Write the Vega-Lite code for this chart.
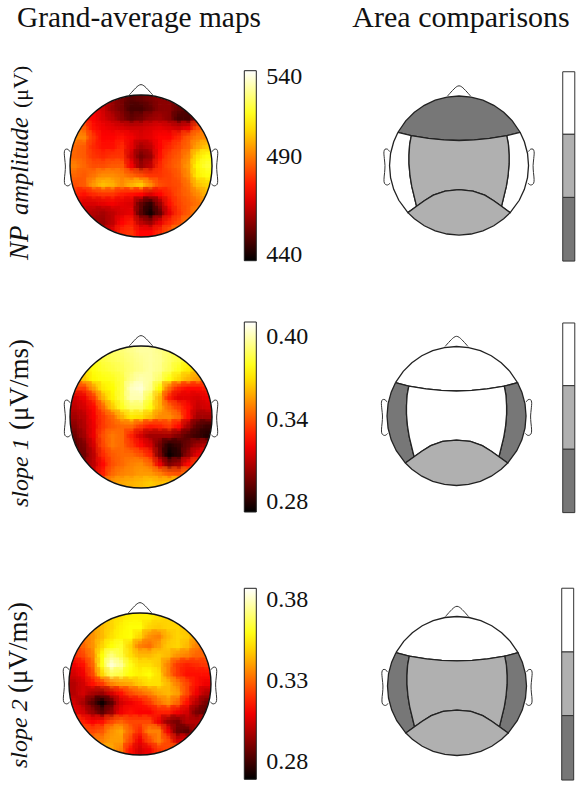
{"$schema":"https://vega.github.io/schema/vega-lite/v6.json","padding":0,"background":"white","config":{"view":{"stroke":null},"axis":{"disable":true},"text":{"font":"Liberation Serif","color":"#111"}},
"datasets":{
"outline":[{"part":"nose","i":0,"x":-1.24,"y":7.5},{"part":"nose","i":1,"x":-0.3,"y":8.48},{"part":"nose","i":2,"x":0,"y":8.6},{"part":"nose","i":3,"x":0.3,"y":8.48},{"part":"nose","i":4,"x":1.24,"y":7.5},
{"part":"earL","i":0,"x":-7.5,"y":1.5},{"part":"earL","i":1,"x":-7.72,"y":1.76},{"part":"earL","i":2,"x":-7.99,"y":1.76},{"part":"earL","i":3,"x":-8.1,"y":1.5},{"part":"earL","i":4,"x":-8.06,"y":0.75},{"part":"earL","i":5,"x":-7.99,"y":0},{"part":"earL","i":6,"x":-8.03,"y":-0.75},{"part":"earL","i":7,"x":-8.1,"y":-1.5},{"part":"earL","i":8,"x":-8.03,"y":-1.95},{"part":"earL","i":9,"x":-7.72,"y":-2.1},{"part":"earL","i":10,"x":-7.42,"y":-1.88},
{"part":"earR","i":0,"x":7.5,"y":1.5},{"part":"earR","i":1,"x":7.72,"y":1.76},{"part":"earR","i":2,"x":7.99,"y":1.76},{"part":"earR","i":3,"x":8.1,"y":1.5},{"part":"earR","i":4,"x":8.06,"y":0.75},{"part":"earR","i":5,"x":7.99,"y":0},{"part":"earR","i":6,"x":8.03,"y":-0.75},{"part":"earR","i":7,"x":8.1,"y":-1.5},{"part":"earR","i":8,"x":8.03,"y":-1.95},{"part":"earR","i":9,"x":7.72,"y":-2.1},{"part":"earR","i":10,"x":7.42,"y":-1.88}],
"levels":[{"region":"top","np":"low","s1":"high","s2":"high"},{"region":"left","np":"high","s1":"low","s2":"low"},{"region":"right","np":"high","s1":"low","s2":"low"},{"region":"center","np":"mid","s1":"high","s2":"mid"},{"region":"bottom","np":"mid","s1":"mid","s2":"mid"}],
"bars":[{"m":1,"level":"high","lo":3.37,"hi":10.12},{"m":1,"level":"mid","lo":-3.44,"hi":3.37},{"m":1,"level":"low","lo":-10.31,"hi":-3.44},{"m":2,"level":"high","lo":3.27,"hi":10.04},{"m":2,"level":"mid","lo":-3.59,"hi":3.27},{"m":2,"level":"low","lo":-10.43,"hi":-3.59},{"m":3,"level":"high","lo":3.67,"hi":10.55},{"m":3,"level":"mid","lo":-3.2,"hi":3.67},{"m":3,"level":"low","lo":-10.15,"hi":-3.2}],
"regions":[
{"region":"top","i":0,"x":-6.59,"y":3.59},{"region":"top","i":1,"x":-5.15,"y":3.22},{"region":"top","i":2,"x":-3.3,"y":2.92},{"region":"top","i":3,"x":-1.65,"y":2.76},{"region":"top","i":4,"x":0,"y":2.7},{"region":"top","i":5,"x":1.65,"y":2.76},{"region":"top","i":6,"x":3.3,"y":2.92},{"region":"top","i":7,"x":5.15,"y":3.22},{"region":"top","i":8,"x":6.59,"y":3.59},{"region":"top","i":9,"x":5.75,"y":4.82},{"region":"top","i":10,"x":4.82,"y":5.75},{"region":"top","i":11,"x":3.75,"y":6.5},{"region":"top","i":12,"x":2.57,"y":7.05},{"region":"top","i":13,"x":1.3,"y":7.39},{"region":"top","i":14,"x":0,"y":7.5},{"region":"top","i":15,"x":-1.3,"y":7.39},{"region":"top","i":16,"x":-2.57,"y":7.05},{"region":"top","i":17,"x":-3.75,"y":6.5},{"region":"top","i":18,"x":-4.82,"y":5.75},{"region":"top","i":19,"x":-5.75,"y":4.82},{"region":"top","i":20,"x":-6.59,"y":3.59},
{"region":"left","i":0,"x":-6.59,"y":3.59},{"region":"left","i":1,"x":-5.15,"y":3.22},{"region":"left","i":2,"x":-5.33,"y":2.25},{"region":"left","i":3,"x":-5.4,"y":1.1},{"region":"left","i":4,"x":-5.4,"y":0.2},{"region":"left","i":5,"x":-5.29,"y":-1.1},{"region":"left","i":6,"x":-5.1,"y":-2.25},{"region":"left","i":7,"x":-4.58,"y":-4.4},{"region":"left","i":8,"x":-5.52,"y":-5.08},{"region":"left","i":9,"x":-6.5,"y":-3.75},{"region":"left","i":10,"x":-7.05,"y":-2.57},{"region":"left","i":11,"x":-7.39,"y":-1.3},{"region":"left","i":12,"x":-7.5,"y":0},{"region":"left","i":13,"x":-7.39,"y":1.3},{"region":"left","i":14,"x":-7.05,"y":2.57},{"region":"left","i":15,"x":-6.59,"y":3.59},
{"region":"right","i":0,"x":6.59,"y":3.59},{"region":"right","i":1,"x":5.15,"y":3.22},{"region":"right","i":2,"x":5.33,"y":2.25},{"region":"right","i":3,"x":5.4,"y":1.1},{"region":"right","i":4,"x":5.4,"y":0.2},{"region":"right","i":5,"x":5.29,"y":-1.1},{"region":"right","i":6,"x":5.1,"y":-2.25},{"region":"right","i":7,"x":4.58,"y":-4.4},{"region":"right","i":8,"x":5.52,"y":-5.08},{"region":"right","i":9,"x":6.5,"y":-3.75},{"region":"right","i":10,"x":7.05,"y":-2.57},{"region":"right","i":11,"x":7.39,"y":-1.3},{"region":"right","i":12,"x":7.5,"y":0},{"region":"right","i":13,"x":7.39,"y":1.3},{"region":"right","i":14,"x":7.05,"y":2.57},{"region":"right","i":15,"x":6.59,"y":3.59},
{"region":"center","i":0,"x":-5.15,"y":3.22},{"region":"center","i":1,"x":-3.3,"y":2.92},{"region":"center","i":2,"x":-1.65,"y":2.76},{"region":"center","i":3,"x":0,"y":2.7},{"region":"center","i":4,"x":1.65,"y":2.76},{"region":"center","i":5,"x":3.3,"y":2.92},{"region":"center","i":6,"x":5.15,"y":3.22},{"region":"center","i":7,"x":5.33,"y":2.25},{"region":"center","i":8,"x":5.4,"y":1.1},{"region":"center","i":9,"x":5.4,"y":0.2},{"region":"center","i":10,"x":5.29,"y":-1.1},{"region":"center","i":11,"x":5.1,"y":-2.25},{"region":"center","i":12,"x":4.58,"y":-4.4},{"region":"center","i":13,"x":3.75,"y":-3.8},{"region":"center","i":14,"x":2.78,"y":-3.2},{"region":"center","i":15,"x":1.5,"y":-2.75},{"region":"center","i":16,"x":0,"y":-2.6},{"region":"center","i":17,"x":-1.5,"y":-2.75},{"region":"center","i":18,"x":-2.78,"y":-3.2},{"region":"center","i":19,"x":-3.75,"y":-3.8},{"region":"center","i":20,"x":-4.58,"y":-4.4},{"region":"center","i":21,"x":-5.1,"y":-2.25},{"region":"center","i":22,"x":-5.29,"y":-1.1},{"region":"center","i":23,"x":-5.4,"y":0.2},{"region":"center","i":24,"x":-5.4,"y":1.1},{"region":"center","i":25,"x":-5.33,"y":2.25},{"region":"center","i":26,"x":-5.15,"y":3.22},
{"region":"bottom","i":0,"x":-5.52,"y":-5.08},{"region":"bottom","i":1,"x":-4.58,"y":-4.4},{"region":"bottom","i":2,"x":-3.75,"y":-3.8},{"region":"bottom","i":3,"x":-2.78,"y":-3.2},{"region":"bottom","i":4,"x":-1.5,"y":-2.75},{"region":"bottom","i":5,"x":0,"y":-2.6},{"region":"bottom","i":6,"x":1.5,"y":-2.75},{"region":"bottom","i":7,"x":2.78,"y":-3.2},{"region":"bottom","i":8,"x":3.75,"y":-3.8},{"region":"bottom","i":9,"x":4.58,"y":-4.4},{"region":"bottom","i":10,"x":5.52,"y":-5.08},{"region":"bottom","i":11,"x":4.82,"y":-5.75},{"region":"bottom","i":12,"x":3.75,"y":-6.5},{"region":"bottom","i":13,"x":2.57,"y":-7.05},{"region":"bottom","i":14,"x":1.3,"y":-7.39},{"region":"bottom","i":15,"x":0,"y":-7.5},{"region":"bottom","i":16,"x":-1.3,"y":-7.39},{"region":"bottom","i":17,"x":-2.57,"y":-7.05},{"region":"bottom","i":18,"x":-3.75,"y":-6.5},{"region":"bottom","i":19,"x":-4.82,"y":-5.75},{"region":"bottom","i":20,"x":-5.52,"y":-5.08}],
"cells":[
{"m":1,"x":-4,"y":7,"v":465},{"m":1,"x":-3,"y":7,"v":460},{"m":1,"x":-2,"y":7,"v":455},{"m":1,"x":-1,"y":7,"v":450},{"m":1,"x":0,"y":7,"v":452},{"m":1,"x":1,"y":7,"v":455},{"m":1,"x":2,"y":7,"v":458},{"m":1,"x":3,"y":7,"v":458},{"m":1,"x":4,"y":7,"v":455},
{"m":1,"x":-5,"y":6,"v":475},{"m":1,"x":-4,"y":6,"v":468},{"m":1,"x":-3,"y":6,"v":460},{"m":1,"x":-2,"y":6,"v":455},{"m":1,"x":-1,"y":6,"v":448},{"m":1,"x":0,"y":6,"v":448},{"m":1,"x":1,"y":6,"v":452},{"m":1,"x":2,"y":6,"v":458},{"m":1,"x":3,"y":6,"v":458},{"m":1,"x":4,"y":6,"v":452},{"m":1,"x":5,"y":6,"v":450},
{"m":1,"x":-6,"y":5,"v":480},{"m":1,"x":-5,"y":5,"v":475},{"m":1,"x":-4,"y":5,"v":470},{"m":1,"x":-3,"y":5,"v":465},{"m":1,"x":-2,"y":5,"v":458},{"m":1,"x":-1,"y":5,"v":452},{"m":1,"x":0,"y":5,"v":455},{"m":1,"x":1,"y":5,"v":460},{"m":1,"x":2,"y":5,"v":462},{"m":1,"x":3,"y":5,"v":458},{"m":1,"x":4,"y":5,"v":448},{"m":1,"x":5,"y":5,"v":448},{"m":1,"x":6,"y":5,"v":462},
{"m":1,"x":-7,"y":4,"v":495},{"m":1,"x":-6,"y":4,"v":490},{"m":1,"x":-5,"y":4,"v":478},{"m":1,"x":-4,"y":4,"v":474},{"m":1,"x":-3,"y":4,"v":472},{"m":1,"x":-2,"y":4,"v":470},{"m":1,"x":-1,"y":4,"v":468},{"m":1,"x":0,"y":4,"v":468},{"m":1,"x":1,"y":4,"v":470},{"m":1,"x":2,"y":4,"v":472},{"m":1,"x":3,"y":4,"v":470},{"m":1,"x":4,"y":4,"v":468},{"m":1,"x":5,"y":4,"v":472},{"m":1,"x":6,"y":4,"v":488},{"m":1,"x":7,"y":4,"v":495},
{"m":1,"x":-7,"y":3,"v":498},{"m":1,"x":-6,"y":3,"v":497},{"m":1,"x":-5,"y":3,"v":484},{"m":1,"x":-4,"y":3,"v":476},{"m":1,"x":-3,"y":3,"v":476},{"m":1,"x":-2,"y":3,"v":478},{"m":1,"x":-1,"y":3,"v":474},{"m":1,"x":0,"y":3,"v":470},{"m":1,"x":1,"y":3,"v":472},{"m":1,"x":2,"y":3,"v":476},{"m":1,"x":3,"y":3,"v":476},{"m":1,"x":4,"y":3,"v":482},{"m":1,"x":5,"y":3,"v":490},{"m":1,"x":6,"y":3,"v":496},{"m":1,"x":7,"y":3,"v":498},
{"m":1,"x":-7,"y":2,"v":492},{"m":1,"x":-6,"y":2,"v":490},{"m":1,"x":-5,"y":2,"v":482},{"m":1,"x":-4,"y":2,"v":478},{"m":1,"x":-3,"y":2,"v":478},{"m":1,"x":-2,"y":2,"v":482},{"m":1,"x":-1,"y":2,"v":472},{"m":1,"x":0,"y":2,"v":462},{"m":1,"x":1,"y":2,"v":466},{"m":1,"x":2,"y":2,"v":476},{"m":1,"x":3,"y":2,"v":482},{"m":1,"x":4,"y":2,"v":487},{"m":1,"x":5,"y":2,"v":492},{"m":1,"x":6,"y":2,"v":502},{"m":1,"x":7,"y":2,"v":508},
{"m":1,"x":-7,"y":1,"v":492},{"m":1,"x":-6,"y":1,"v":490},{"m":1,"x":-5,"y":1,"v":484},{"m":1,"x":-4,"y":1,"v":482},{"m":1,"x":-3,"y":1,"v":484},{"m":1,"x":-2,"y":1,"v":484},{"m":1,"x":-1,"y":1,"v":468},{"m":1,"x":0,"y":1,"v":455},{"m":1,"x":1,"y":1,"v":460},{"m":1,"x":2,"y":1,"v":478},{"m":1,"x":3,"y":1,"v":486},{"m":1,"x":4,"y":1,"v":490},{"m":1,"x":5,"y":1,"v":497},{"m":1,"x":6,"y":1,"v":512},{"m":1,"x":7,"y":1,"v":518},
{"m":1,"x":-7,"y":0,"v":496},{"m":1,"x":-6,"y":0,"v":492},{"m":1,"x":-5,"y":0,"v":488},{"m":1,"x":-4,"y":0,"v":488},{"m":1,"x":-3,"y":0,"v":490},{"m":1,"x":-2,"y":0,"v":490},{"m":1,"x":-1,"y":0,"v":474},{"m":1,"x":0,"y":0,"v":460},{"m":1,"x":1,"y":0,"v":466},{"m":1,"x":2,"y":0,"v":482},{"m":1,"x":3,"y":0,"v":488},{"m":1,"x":4,"y":0,"v":492},{"m":1,"x":5,"y":0,"v":500},{"m":1,"x":6,"y":0,"v":516},{"m":1,"x":7,"y":0,"v":522},
{"m":1,"x":-7,"y":-1,"v":492},{"m":1,"x":-6,"y":-1,"v":490},{"m":1,"x":-5,"y":-1,"v":494},{"m":1,"x":-4,"y":-1,"v":498},{"m":1,"x":-3,"y":-1,"v":498},{"m":1,"x":-2,"y":-1,"v":496},{"m":1,"x":-1,"y":-1,"v":492},{"m":1,"x":0,"y":-1,"v":488},{"m":1,"x":1,"y":-1,"v":484},{"m":1,"x":2,"y":-1,"v":484},{"m":1,"x":3,"y":-1,"v":486},{"m":1,"x":4,"y":-1,"v":490},{"m":1,"x":5,"y":-1,"v":498},{"m":1,"x":6,"y":-1,"v":514},{"m":1,"x":7,"y":-1,"v":518},
{"m":1,"x":-7,"y":-2,"v":488},{"m":1,"x":-6,"y":-2,"v":490},{"m":1,"x":-5,"y":-2,"v":500},{"m":1,"x":-4,"y":-2,"v":506},{"m":1,"x":-3,"y":-2,"v":504},{"m":1,"x":-2,"y":-2,"v":498},{"m":1,"x":-1,"y":-2,"v":504},{"m":1,"x":0,"y":-2,"v":508},{"m":1,"x":1,"y":-2,"v":498},{"m":1,"x":2,"y":-2,"v":488},{"m":1,"x":3,"y":-2,"v":486},{"m":1,"x":4,"y":-2,"v":488},{"m":1,"x":5,"y":-2,"v":494},{"m":1,"x":6,"y":-2,"v":506},{"m":1,"x":7,"y":-2,"v":510},
{"m":1,"x":-7,"y":-3,"v":482},{"m":1,"x":-6,"y":-3,"v":478},{"m":1,"x":-5,"y":-3,"v":482},{"m":1,"x":-4,"y":-3,"v":484},{"m":1,"x":-3,"y":-3,"v":484},{"m":1,"x":-2,"y":-3,"v":480},{"m":1,"x":-1,"y":-3,"v":478},{"m":1,"x":0,"y":-3,"v":476},{"m":1,"x":1,"y":-3,"v":470},{"m":1,"x":2,"y":-3,"v":476},{"m":1,"x":3,"y":-3,"v":482},{"m":1,"x":4,"y":-3,"v":488},{"m":1,"x":5,"y":-3,"v":492},{"m":1,"x":6,"y":-3,"v":498},{"m":1,"x":7,"y":-3,"v":505},
{"m":1,"x":-7,"y":-4,"v":478},{"m":1,"x":-6,"y":-4,"v":470},{"m":1,"x":-5,"y":-4,"v":470},{"m":1,"x":-4,"y":-4,"v":472},{"m":1,"x":-3,"y":-4,"v":474},{"m":1,"x":-2,"y":-4,"v":472},{"m":1,"x":-1,"y":-4,"v":470},{"m":1,"x":0,"y":-4,"v":452},{"m":1,"x":1,"y":-4,"v":444},{"m":1,"x":2,"y":-4,"v":460},{"m":1,"x":3,"y":-4,"v":478},{"m":1,"x":4,"y":-4,"v":486},{"m":1,"x":5,"y":-4,"v":490},{"m":1,"x":6,"y":-4,"v":494},{"m":1,"x":7,"y":-4,"v":500},
{"m":1,"x":-6,"y":-5,"v":468},{"m":1,"x":-5,"y":-5,"v":464},{"m":1,"x":-4,"y":-5,"v":462},{"m":1,"x":-3,"y":-5,"v":466},{"m":1,"x":-2,"y":-5,"v":470},{"m":1,"x":-1,"y":-5,"v":472},{"m":1,"x":0,"y":-5,"v":450},{"m":1,"x":1,"y":-5,"v":440},{"m":1,"x":2,"y":-5,"v":452},{"m":1,"x":3,"y":-5,"v":472},{"m":1,"x":4,"y":-5,"v":484},{"m":1,"x":5,"y":-5,"v":490},{"m":1,"x":6,"y":-5,"v":498},
{"m":1,"x":-5,"y":-6,"v":462},{"m":1,"x":-4,"y":-6,"v":460},{"m":1,"x":-3,"y":-6,"v":466},{"m":1,"x":-2,"y":-6,"v":476},{"m":1,"x":-1,"y":-6,"v":480},{"m":1,"x":0,"y":-6,"v":466},{"m":1,"x":1,"y":-6,"v":460},{"m":1,"x":2,"y":-6,"v":472},{"m":1,"x":3,"y":-6,"v":482},{"m":1,"x":4,"y":-6,"v":488},{"m":1,"x":5,"y":-6,"v":496},
{"m":1,"x":-4,"y":-7,"v":464},{"m":1,"x":-3,"y":-7,"v":472},{"m":1,"x":-2,"y":-7,"v":482},{"m":1,"x":-1,"y":-7,"v":484},{"m":1,"x":0,"y":-7,"v":476},{"m":1,"x":1,"y":-7,"v":476},{"m":1,"x":2,"y":-7,"v":482},{"m":1,"x":3,"y":-7,"v":490},{"m":1,"x":4,"y":-7,"v":498},
{"m":2,"x":-4,"y":7,"v":0.385},{"m":2,"x":-3,"y":7,"v":0.39},{"m":2,"x":-2,"y":7,"v":0.392},{"m":2,"x":-1,"y":7,"v":0.395},{"m":2,"x":0,"y":7,"v":0.398},{"m":2,"x":1,"y":7,"v":0.398},{"m":2,"x":2,"y":7,"v":0.395},{"m":2,"x":3,"y":7,"v":0.39},{"m":2,"x":4,"y":7,"v":0.385},
{"m":2,"x":-5,"y":6,"v":0.38},{"m":2,"x":-4,"y":6,"v":0.385},{"m":2,"x":-3,"y":6,"v":0.388},{"m":2,"x":-2,"y":6,"v":0.39},{"m":2,"x":-1,"y":6,"v":0.393},{"m":2,"x":0,"y":6,"v":0.396},{"m":2,"x":1,"y":6,"v":0.398},{"m":2,"x":2,"y":6,"v":0.396},{"m":2,"x":3,"y":6,"v":0.39},{"m":2,"x":4,"y":6,"v":0.385},{"m":2,"x":5,"y":6,"v":0.38},
{"m":2,"x":-6,"y":5,"v":0.37},{"m":2,"x":-5,"y":5,"v":0.378},{"m":2,"x":-4,"y":5,"v":0.382},{"m":2,"x":-3,"y":5,"v":0.385},{"m":2,"x":-2,"y":5,"v":0.388},{"m":2,"x":-1,"y":5,"v":0.392},{"m":2,"x":0,"y":5,"v":0.395},{"m":2,"x":1,"y":5,"v":0.398},{"m":2,"x":2,"y":5,"v":0.395},{"m":2,"x":3,"y":5,"v":0.388},{"m":2,"x":4,"y":5,"v":0.38},{"m":2,"x":5,"y":5,"v":0.372},{"m":2,"x":6,"y":5,"v":0.365},
{"m":2,"x":-7,"y":4,"v":0.36},{"m":2,"x":-6,"y":4,"v":0.365},{"m":2,"x":-5,"y":4,"v":0.375},{"m":2,"x":-4,"y":4,"v":0.378},{"m":2,"x":-3,"y":4,"v":0.38},{"m":2,"x":-2,"y":4,"v":0.385},{"m":2,"x":-1,"y":4,"v":0.395},{"m":2,"x":0,"y":4,"v":0.4},{"m":2,"x":1,"y":4,"v":0.398},{"m":2,"x":2,"y":4,"v":0.39},{"m":2,"x":3,"y":4,"v":0.378},{"m":2,"x":4,"y":4,"v":0.368},{"m":2,"x":5,"y":4,"v":0.36},{"m":2,"x":6,"y":4,"v":0.355},{"m":2,"x":7,"y":4,"v":0.35},
{"m":2,"x":-7,"y":3,"v":0.335},{"m":2,"x":-6,"y":3,"v":0.335},{"m":2,"x":-5,"y":3,"v":0.355},{"m":2,"x":-4,"y":3,"v":0.372},{"m":2,"x":-3,"y":3,"v":0.376},{"m":2,"x":-2,"y":3,"v":0.385},{"m":2,"x":-1,"y":3,"v":0.402},{"m":2,"x":0,"y":3,"v":0.405},{"m":2,"x":1,"y":3,"v":0.395},{"m":2,"x":2,"y":3,"v":0.375},{"m":2,"x":3,"y":3,"v":0.345},{"m":2,"x":4,"y":3,"v":0.33},{"m":2,"x":5,"y":3,"v":0.325},{"m":2,"x":6,"y":3,"v":0.325},{"m":2,"x":7,"y":3,"v":0.33},
{"m":2,"x":-7,"y":2,"v":0.315},{"m":2,"x":-6,"y":2,"v":0.32},{"m":2,"x":-5,"y":2,"v":0.335},{"m":2,"x":-4,"y":2,"v":0.36},{"m":2,"x":-3,"y":2,"v":0.374},{"m":2,"x":-2,"y":2,"v":0.385},{"m":2,"x":-1,"y":2,"v":0.4},{"m":2,"x":0,"y":2,"v":0.4},{"m":2,"x":1,"y":2,"v":0.385},{"m":2,"x":2,"y":2,"v":0.36},{"m":2,"x":3,"y":2,"v":0.33},{"m":2,"x":4,"y":2,"v":0.318},{"m":2,"x":5,"y":2,"v":0.318},{"m":2,"x":6,"y":2,"v":0.315},{"m":2,"x":7,"y":2,"v":0.32},
{"m":2,"x":-7,"y":1,"v":0.31},{"m":2,"x":-6,"y":1,"v":0.315},{"m":2,"x":-5,"y":1,"v":0.325},{"m":2,"x":-4,"y":1,"v":0.345},{"m":2,"x":-3,"y":1,"v":0.365},{"m":2,"x":-2,"y":1,"v":0.38},{"m":2,"x":-1,"y":1,"v":0.39},{"m":2,"x":0,"y":1,"v":0.39},{"m":2,"x":1,"y":1,"v":0.378},{"m":2,"x":2,"y":1,"v":0.36},{"m":2,"x":3,"y":1,"v":0.345},{"m":2,"x":4,"y":1,"v":0.335},{"m":2,"x":5,"y":1,"v":0.325},{"m":2,"x":6,"y":1,"v":0.312},{"m":2,"x":7,"y":1,"v":0.315},
{"m":2,"x":-7,"y":0,"v":0.305},{"m":2,"x":-6,"y":0,"v":0.31},{"m":2,"x":-5,"y":0,"v":0.322},{"m":2,"x":-4,"y":0,"v":0.335},{"m":2,"x":-3,"y":0,"v":0.345},{"m":2,"x":-2,"y":0,"v":0.36},{"m":2,"x":-1,"y":0,"v":0.372},{"m":2,"x":0,"y":0,"v":0.37},{"m":2,"x":1,"y":0,"v":0.362},{"m":2,"x":2,"y":0,"v":0.352},{"m":2,"x":3,"y":0,"v":0.352},{"m":2,"x":4,"y":0,"v":0.345},{"m":2,"x":5,"y":0,"v":0.325},{"m":2,"x":6,"y":0,"v":0.305},{"m":2,"x":7,"y":0,"v":0.305},
{"m":2,"x":-7,"y":-1,"v":0.3},{"m":2,"x":-6,"y":-1,"v":0.308},{"m":2,"x":-5,"y":-1,"v":0.32},{"m":2,"x":-4,"y":-1,"v":0.335},{"m":2,"x":-3,"y":-1,"v":0.342},{"m":2,"x":-2,"y":-1,"v":0.345},{"m":2,"x":-1,"y":-1,"v":0.345},{"m":2,"x":0,"y":-1,"v":0.335},{"m":2,"x":1,"y":-1,"v":0.328},{"m":2,"x":2,"y":-1,"v":0.33},{"m":2,"x":3,"y":-1,"v":0.335},{"m":2,"x":4,"y":-1,"v":0.325},{"m":2,"x":5,"y":-1,"v":0.305},{"m":2,"x":6,"y":-1,"v":0.29},{"m":2,"x":7,"y":-1,"v":0.285},
{"m":2,"x":-7,"y":-2,"v":0.295},{"m":2,"x":-6,"y":-2,"v":0.305},{"m":2,"x":-5,"y":-2,"v":0.32},{"m":2,"x":-4,"y":-2,"v":0.34},{"m":2,"x":-3,"y":-2,"v":0.348},{"m":2,"x":-2,"y":-2,"v":0.345},{"m":2,"x":-1,"y":-2,"v":0.33},{"m":2,"x":0,"y":-2,"v":0.315},{"m":2,"x":1,"y":-2,"v":0.305},{"m":2,"x":2,"y":-2,"v":0.305},{"m":2,"x":3,"y":-2,"v":0.305},{"m":2,"x":4,"y":-2,"v":0.298},{"m":2,"x":5,"y":-2,"v":0.29},{"m":2,"x":6,"y":-2,"v":0.285},{"m":2,"x":7,"y":-2,"v":0.28},
{"m":2,"x":-7,"y":-3,"v":0.29},{"m":2,"x":-6,"y":-3,"v":0.298},{"m":2,"x":-5,"y":-3,"v":0.315},{"m":2,"x":-4,"y":-3,"v":0.338},{"m":2,"x":-3,"y":-3,"v":0.348},{"m":2,"x":-2,"y":-3,"v":0.345},{"m":2,"x":-1,"y":-3,"v":0.335},{"m":2,"x":0,"y":-3,"v":0.325},{"m":2,"x":1,"y":-3,"v":0.315},{"m":2,"x":2,"y":-3,"v":0.295},{"m":2,"x":3,"y":-3,"v":0.28},{"m":2,"x":4,"y":-3,"v":0.285},{"m":2,"x":5,"y":-3,"v":0.295},{"m":2,"x":6,"y":-3,"v":0.305},{"m":2,"x":7,"y":-3,"v":0.31},
{"m":2,"x":-7,"y":-4,"v":0.295},{"m":2,"x":-6,"y":-4,"v":0.295},{"m":2,"x":-5,"y":-4,"v":0.31},{"m":2,"x":-4,"y":-4,"v":0.332},{"m":2,"x":-3,"y":-4,"v":0.342},{"m":2,"x":-2,"y":-4,"v":0.345},{"m":2,"x":-1,"y":-4,"v":0.345},{"m":2,"x":0,"y":-4,"v":0.34},{"m":2,"x":1,"y":-4,"v":0.33},{"m":2,"x":2,"y":-4,"v":0.298},{"m":2,"x":3,"y":-4,"v":0.275},{"m":2,"x":4,"y":-4,"v":0.282},{"m":2,"x":5,"y":-4,"v":0.302},{"m":2,"x":6,"y":-4,"v":0.318},{"m":2,"x":7,"y":-4,"v":0.325},
{"m":2,"x":-6,"y":-5,"v":0.3},{"m":2,"x":-5,"y":-5,"v":0.31},{"m":2,"x":-4,"y":-5,"v":0.325},{"m":2,"x":-3,"y":-5,"v":0.34},{"m":2,"x":-2,"y":-5,"v":0.345},{"m":2,"x":-1,"y":-5,"v":0.35},{"m":2,"x":0,"y":-5,"v":0.352},{"m":2,"x":1,"y":-5,"v":0.345},{"m":2,"x":2,"y":-5,"v":0.32},{"m":2,"x":3,"y":-5,"v":0.298},{"m":2,"x":4,"y":-5,"v":0.305},{"m":2,"x":5,"y":-5,"v":0.325},{"m":2,"x":6,"y":-5,"v":0.34},
{"m":2,"x":-5,"y":-6,"v":0.315},{"m":2,"x":-4,"y":-6,"v":0.33},{"m":2,"x":-3,"y":-6,"v":0.345},{"m":2,"x":-2,"y":-6,"v":0.35},{"m":2,"x":-1,"y":-6,"v":0.352},{"m":2,"x":0,"y":-6,"v":0.355},{"m":2,"x":1,"y":-6,"v":0.355},{"m":2,"x":2,"y":-6,"v":0.35},{"m":2,"x":3,"y":-6,"v":0.342},{"m":2,"x":4,"y":-6,"v":0.34},{"m":2,"x":5,"y":-6,"v":0.35},
{"m":2,"x":-4,"y":-7,"v":0.345},{"m":2,"x":-3,"y":-7,"v":0.355},{"m":2,"x":-2,"y":-7,"v":0.358},{"m":2,"x":-1,"y":-7,"v":0.36},{"m":2,"x":0,"y":-7,"v":0.362},{"m":2,"x":1,"y":-7,"v":0.365},{"m":2,"x":2,"y":-7,"v":0.362},{"m":2,"x":3,"y":-7,"v":0.365},{"m":2,"x":4,"y":-7,"v":0.37},
{"m":3,"x":-4,"y":7,"v":0.345},{"m":3,"x":-3,"y":7,"v":0.35},{"m":3,"x":-2,"y":7,"v":0.352},{"m":3,"x":-1,"y":7,"v":0.355},{"m":3,"x":0,"y":7,"v":0.355},{"m":3,"x":1,"y":7,"v":0.355},{"m":3,"x":2,"y":7,"v":0.352},{"m":3,"x":3,"y":7,"v":0.35},{"m":3,"x":4,"y":7,"v":0.348},
{"m":3,"x":-5,"y":6,"v":0.338},{"m":3,"x":-4,"y":6,"v":0.345},{"m":3,"x":-3,"y":6,"v":0.35},{"m":3,"x":-2,"y":6,"v":0.355},{"m":3,"x":-1,"y":6,"v":0.358},{"m":3,"x":0,"y":6,"v":0.358},{"m":3,"x":1,"y":6,"v":0.35},{"m":3,"x":2,"y":6,"v":0.348},{"m":3,"x":3,"y":6,"v":0.35},{"m":3,"x":4,"y":6,"v":0.35},{"m":3,"x":5,"y":6,"v":0.345},
{"m":3,"x":-6,"y":5,"v":0.332},{"m":3,"x":-5,"y":5,"v":0.338},{"m":3,"x":-4,"y":5,"v":0.345},{"m":3,"x":-3,"y":5,"v":0.352},{"m":3,"x":-2,"y":5,"v":0.356},{"m":3,"x":-1,"y":5,"v":0.358},{"m":3,"x":0,"y":5,"v":0.35},{"m":3,"x":1,"y":5,"v":0.338},{"m":3,"x":2,"y":5,"v":0.335},{"m":3,"x":3,"y":5,"v":0.345},{"m":3,"x":4,"y":5,"v":0.35},{"m":3,"x":5,"y":5,"v":0.348},{"m":3,"x":6,"y":5,"v":0.34},
{"m":3,"x":-7,"y":4,"v":0.325},{"m":3,"x":-6,"y":4,"v":0.33},{"m":3,"x":-5,"y":4,"v":0.338},{"m":3,"x":-4,"y":4,"v":0.35},{"m":3,"x":-3,"y":4,"v":0.358},{"m":3,"x":-2,"y":4,"v":0.362},{"m":3,"x":-1,"y":4,"v":0.35},{"m":3,"x":0,"y":4,"v":0.335},{"m":3,"x":1,"y":4,"v":0.332},{"m":3,"x":2,"y":4,"v":0.34},{"m":3,"x":3,"y":4,"v":0.348},{"m":3,"x":4,"y":4,"v":0.35},{"m":3,"x":5,"y":4,"v":0.345},{"m":3,"x":6,"y":4,"v":0.335},{"m":3,"x":7,"y":4,"v":0.33},
{"m":3,"x":-7,"y":3,"v":0.32},{"m":3,"x":-6,"y":3,"v":0.325},{"m":3,"x":-5,"y":3,"v":0.335},{"m":3,"x":-4,"y":3,"v":0.358},{"m":3,"x":-3,"y":3,"v":0.372},{"m":3,"x":-2,"y":3,"v":0.365},{"m":3,"x":-1,"y":3,"v":0.352},{"m":3,"x":0,"y":3,"v":0.345},{"m":3,"x":1,"y":3,"v":0.345},{"m":3,"x":2,"y":3,"v":0.348},{"m":3,"x":3,"y":3,"v":0.345},{"m":3,"x":4,"y":3,"v":0.338},{"m":3,"x":5,"y":3,"v":0.335},{"m":3,"x":6,"y":3,"v":0.33},{"m":3,"x":7,"y":3,"v":0.33},
{"m":3,"x":-7,"y":2,"v":0.31},{"m":3,"x":-6,"y":2,"v":0.315},{"m":3,"x":-5,"y":2,"v":0.33},{"m":3,"x":-4,"y":2,"v":0.36},{"m":3,"x":-3,"y":2,"v":0.382},{"m":3,"x":-2,"y":2,"v":0.375},{"m":3,"x":-1,"y":2,"v":0.36},{"m":3,"x":0,"y":2,"v":0.352},{"m":3,"x":1,"y":2,"v":0.352},{"m":3,"x":2,"y":2,"v":0.348},{"m":3,"x":3,"y":2,"v":0.335},{"m":3,"x":4,"y":2,"v":0.322},{"m":3,"x":5,"y":2,"v":0.318},{"m":3,"x":6,"y":2,"v":0.32},{"m":3,"x":7,"y":2,"v":0.322},
{"m":3,"x":-7,"y":1,"v":0.305},{"m":3,"x":-6,"y":1,"v":0.31},{"m":3,"x":-5,"y":1,"v":0.325},{"m":3,"x":-4,"y":1,"v":0.35},{"m":3,"x":-3,"y":1,"v":0.368},{"m":3,"x":-2,"y":1,"v":0.365},{"m":3,"x":-1,"y":1,"v":0.358},{"m":3,"x":0,"y":1,"v":0.355},{"m":3,"x":1,"y":1,"v":0.358},{"m":3,"x":2,"y":1,"v":0.352},{"m":3,"x":3,"y":1,"v":0.335},{"m":3,"x":4,"y":1,"v":0.322},{"m":3,"x":5,"y":1,"v":0.315},{"m":3,"x":6,"y":1,"v":0.315},{"m":3,"x":7,"y":1,"v":0.315},
{"m":3,"x":-7,"y":0,"v":0.3},{"m":3,"x":-6,"y":0,"v":0.305},{"m":3,"x":-5,"y":0,"v":0.315},{"m":3,"x":-4,"y":0,"v":0.322},{"m":3,"x":-3,"y":0,"v":0.335},{"m":3,"x":-2,"y":0,"v":0.34},{"m":3,"x":-1,"y":0,"v":0.342},{"m":3,"x":0,"y":0,"v":0.348},{"m":3,"x":1,"y":0,"v":0.352},{"m":3,"x":2,"y":0,"v":0.352},{"m":3,"x":3,"y":0,"v":0.345},{"m":3,"x":4,"y":0,"v":0.335},{"m":3,"x":5,"y":0,"v":0.325},{"m":3,"x":6,"y":0,"v":0.315},{"m":3,"x":7,"y":0,"v":0.31},
{"m":3,"x":-7,"y":-1,"v":0.3},{"m":3,"x":-6,"y":-1,"v":0.305},{"m":3,"x":-5,"y":-1,"v":0.298},{"m":3,"x":-4,"y":-1,"v":0.295},{"m":3,"x":-3,"y":-1,"v":0.305},{"m":3,"x":-2,"y":-1,"v":0.315},{"m":3,"x":-1,"y":-1,"v":0.325},{"m":3,"x":0,"y":-1,"v":0.33},{"m":3,"x":1,"y":-1,"v":0.335},{"m":3,"x":2,"y":-1,"v":0.342},{"m":3,"x":3,"y":-1,"v":0.345},{"m":3,"x":4,"y":-1,"v":0.34},{"m":3,"x":5,"y":-1,"v":0.325},{"m":3,"x":6,"y":-1,"v":0.31},{"m":3,"x":7,"y":-1,"v":0.3},
{"m":3,"x":-7,"y":-2,"v":0.305},{"m":3,"x":-6,"y":-2,"v":0.298},{"m":3,"x":-5,"y":-2,"v":0.285},{"m":3,"x":-4,"y":-2,"v":0.272},{"m":3,"x":-3,"y":-2,"v":0.285},{"m":3,"x":-2,"y":-2,"v":0.305},{"m":3,"x":-1,"y":-2,"v":0.31},{"m":3,"x":0,"y":-2,"v":0.315},{"m":3,"x":1,"y":-2,"v":0.322},{"m":3,"x":2,"y":-2,"v":0.332},{"m":3,"x":3,"y":-2,"v":0.338},{"m":3,"x":4,"y":-2,"v":0.33},{"m":3,"x":5,"y":-2,"v":0.315},{"m":3,"x":6,"y":-2,"v":0.3},{"m":3,"x":7,"y":-2,"v":0.29},
{"m":3,"x":-7,"y":-3,"v":0.31},{"m":3,"x":-6,"y":-3,"v":0.305},{"m":3,"x":-5,"y":-3,"v":0.295},{"m":3,"x":-4,"y":-3,"v":0.285},{"m":3,"x":-3,"y":-3,"v":0.295},{"m":3,"x":-2,"y":-3,"v":0.31},{"m":3,"x":-1,"y":-3,"v":0.315},{"m":3,"x":0,"y":-3,"v":0.312},{"m":3,"x":1,"y":-3,"v":0.312},{"m":3,"x":2,"y":-3,"v":0.318},{"m":3,"x":3,"y":-3,"v":0.318},{"m":3,"x":4,"y":-3,"v":0.31},{"m":3,"x":5,"y":-3,"v":0.305},{"m":3,"x":6,"y":-3,"v":0.29},{"m":3,"x":7,"y":-3,"v":0.285},
{"m":3,"x":-7,"y":-4,"v":0.325},{"m":3,"x":-6,"y":-4,"v":0.318},{"m":3,"x":-5,"y":-4,"v":0.312},{"m":3,"x":-4,"y":-4,"v":0.315},{"m":3,"x":-3,"y":-4,"v":0.325},{"m":3,"x":-2,"y":-4,"v":0.33},{"m":3,"x":-1,"y":-4,"v":0.325},{"m":3,"x":0,"y":-4,"v":0.325},{"m":3,"x":1,"y":-4,"v":0.325},{"m":3,"x":2,"y":-4,"v":0.31},{"m":3,"x":3,"y":-4,"v":0.295},{"m":3,"x":4,"y":-4,"v":0.29},{"m":3,"x":5,"y":-4,"v":0.3},{"m":3,"x":6,"y":-4,"v":0.3},{"m":3,"x":7,"y":-4,"v":0.305},
{"m":3,"x":-6,"y":-5,"v":0.328},{"m":3,"x":-5,"y":-5,"v":0.325},{"m":3,"x":-4,"y":-5,"v":0.328},{"m":3,"x":-3,"y":-5,"v":0.338},{"m":3,"x":-2,"y":-5,"v":0.342},{"m":3,"x":-1,"y":-5,"v":0.33},{"m":3,"x":0,"y":-5,"v":0.32},{"m":3,"x":1,"y":-5,"v":0.335},{"m":3,"x":2,"y":-5,"v":0.335},{"m":3,"x":3,"y":-5,"v":0.31},{"m":3,"x":4,"y":-5,"v":0.288},{"m":3,"x":5,"y":-5,"v":0.285},{"m":3,"x":6,"y":-5,"v":0.3},
{"m":3,"x":-5,"y":-6,"v":0.335},{"m":3,"x":-4,"y":-6,"v":0.335},{"m":3,"x":-3,"y":-6,"v":0.34},{"m":3,"x":-2,"y":-6,"v":0.34},{"m":3,"x":-1,"y":-6,"v":0.325},{"m":3,"x":0,"y":-6,"v":0.31},{"m":3,"x":1,"y":-6,"v":0.325},{"m":3,"x":2,"y":-6,"v":0.335},{"m":3,"x":3,"y":-6,"v":0.325},{"m":3,"x":4,"y":-6,"v":0.305},{"m":3,"x":5,"y":-6,"v":0.31},
{"m":3,"x":-4,"y":-7,"v":0.345},{"m":3,"x":-3,"y":-7,"v":0.342},{"m":3,"x":-2,"y":-7,"v":0.335},{"m":3,"x":-1,"y":-7,"v":0.315},{"m":3,"x":0,"y":-7,"v":0.305},{"m":3,"x":1,"y":-7,"v":0.31},{"m":3,"x":2,"y":-7,"v":0.322},{"m":3,"x":3,"y":-7,"v":0.325},{"m":3,"x":4,"y":-7,"v":0.33}
]},
"resolve":{"scale":{"color":"independent"}},"spacing":0,"bounds":"flush","columns":2,
"concat":[
{"width":290,"height":290,"layer":[
{"data":{"name":"cells"},"transform":[{"filter":"datum.m==1"}],"mark":{"type":"rect","width":10,"height":10},"encoding":{"x":{"field":"x","type":"quantitative","scale":{"domain":[-14.9,15.74],"nice":false,"zero":false}},"y":{"field":"y","type":"quantitative","scale":{"domain":[-13.1,17.54],"nice":false,"zero":false}},"color":{"field":"v","type":"quantitative","scale":{"domain":[436.8,475.7,516.4,543.5],"range":["#000000","#ff0000","#ffff00","#ffffff"],"clamp":true,"interpolate":"rgb"},"legend":{"orient":"none","legendX":244.3,"legendY":70.7,"title":null,"gradientLength":190,"gradientThickness":12,"gradientStrokeColor":"#222","gradientStrokeWidth":1,"values":[440,495,540],"labelExpr":"datum.value<460?'440':datum.value<520?'490':'540'","labelFont":"Liberation Serif","labelFontSize":24,"labelColor":"#111","labelOffset":10}}}},
{"data":{"name":"cells"},"transform":[{"filter":"datum.m==1"}],"mark":{"type":"rect","width":15,"height":15,"fillOpacity":0.4},"encoding":{"x":{"field":"x","type":"quantitative"},"y":{"field":"y","type":"quantitative"},"color":{"field":"v","type":"quantitative"}}},
{"data":{"values":[{}]},"mark":{"type":"arc","innerRadius":71,"outerRadius":92,"theta":0,"theta2":6.2832,"fill":"white"},"encoding":{"x":{"datum":0,"type":"quantitative"},"y":{"datum":0,"type":"quantitative"}}},
{"data":{"values":[{}]},"mark":{"type":"point","size":20164,"filled":false,"stroke":"#111","strokeWidth":1.4,"opacity":1},"encoding":{"x":{"datum":0,"type":"quantitative"},"y":{"datum":0,"type":"quantitative"}}},
{"data":{"name":"outline"},"mark":{"type":"line","stroke":"#333","strokeWidth":1,"interpolate":"catmull-rom"},"encoding":{"x":{"field":"x","type":"quantitative"},"y":{"field":"y","type":"quantitative"},"detail":{"field":"part"},"order":{"field":"i"}}},
{"data":{"values":[{}]},"mark":{"type":"text","text":"Grand-average maps","fontSize":29.4,"align":"center","baseline":"alphabetic"},"encoding":{"x":{"datum":-0.21,"type":"quantitative"},"y":{"datum":14.74,"type":"quantitative"}}},
{"data":{"values":[{}]},"mark":{"type":"text","text":"NP","fontSize":27,"fontStyle":"italic","angle":270,"align":"left","baseline":"alphabetic"},"encoding":{"x":{"datum":-11.94,"type":"quantitative"},"y":{"datum":-9.93,"type":"quantitative"}}},
{"data":{"values":[{}]},"mark":{"type":"text","text":"amplitude","fontSize":24.5,"fontStyle":"italic","angle":270,"align":"left","baseline":"alphabetic"},"encoding":{"x":{"datum":-11.94,"type":"quantitative"},"y":{"datum":-5.18,"type":"quantitative"}}},
{"data":{"values":[{}]},"mark":{"type":"text","text":"(μV)","fontSize":22,"angle":270,"align":"left","baseline":"alphabetic"},"encoding":{"x":{"datum":-11.94,"type":"quantitative"},"y":{"datum":6.13,"type":"quantitative"}}}
]},
{"width":291,"height":290,"layer":[
{"data":{"name":"regions"},"transform":[{"lookup":"region","from":{"data":{"name":"levels"},"key":"region","fields":["np"]}}],"mark":{"type":"line","stroke":"#222","strokeWidth":1.3},"encoding":{"x":{"field":"x","type":"quantitative","scale":{"domain":[-18.24,13.16],"nice":false,"zero":false}},"y":{"field":"y","type":"quantitative","scale":{"domain":[-13.43,17.86],"nice":false,"zero":false}},"fill":{"field":"np","type":"nominal","scale":{"domain":["low","mid","high"],"range":["#777777","#b0b0b0","#ffffff"]},"legend":null},"detail":{"field":"region"},"order":{"field":"i"}}},
{"data":{"name":"outline"},"mark":{"type":"line","stroke":"#333","strokeWidth":1,"interpolate":"catmull-rom"},"encoding":{"x":{"field":"x","type":"quantitative"},"y":{"field":"y","type":"quantitative"},"detail":{"field":"part"},"order":{"field":"i"}}},
{"data":{"name":"bars"},"transform":[{"filter":"datum.m==1"}],"mark":{"type":"rect","stroke":"#333","strokeWidth":1},"encoding":{"x":{"datum":11.19,"type":"quantitative"},"x2":{"datum":12.49},"y":{"field":"lo","type":"quantitative"},"y2":{"field":"hi"},"fill":{"field":"level","type":"nominal","scale":{"domain":["low","mid","high"],"range":["#777777","#b0b0b0","#ffffff"]},"legend":null}}},
{"data":{"values":[{}]},"mark":{"type":"text","text":"Area comparisons","fontSize":30,"align":"center","baseline":"alphabetic"},"encoding":{"x":{"datum":0.22,"type":"quantitative"},"y":{"datum":15.0,"type":"quantitative"}}}
]},
{"width":290,"height":267,"layer":[
{"data":{"name":"cells"},"transform":[{"filter":"datum.m==2"}],"mark":{"type":"rect","width":10,"height":10},"encoding":{"x":{"field":"x","type":"quantitative","scale":{"domain":[-14.9,15.74],"nice":false,"zero":false}},"y":{"field":"y","type":"quantitative","scale":{"domain":[-14.79,13.42],"nice":false,"zero":false}},"color":{"field":"v","type":"quantitative","scale":{"domain":[0.2729,0.3233,0.3759,0.4109],"range":["#000000","#ff0000","#ffff00","#ffffff"],"clamp":true,"interpolate":"rgb"},"legend":{"orient":"none","legendX":244.3,"legendY":32,"title":null,"gradientLength":190,"gradientThickness":12,"gradientStrokeColor":"#222","gradientStrokeWidth":1,"values":[0.28,0.34,0.4],"format":".2f","labelFont":"Liberation Serif","labelFontSize":24,"labelColor":"#111","labelOffset":10}}}},
{"data":{"name":"cells"},"transform":[{"filter":"datum.m==2"}],"mark":{"type":"rect","width":15,"height":15,"fillOpacity":0.4},"encoding":{"x":{"field":"x","type":"quantitative"},"y":{"field":"y","type":"quantitative"},"color":{"field":"v","type":"quantitative"}}},
{"data":{"values":[{}]},"mark":{"type":"arc","innerRadius":71,"outerRadius":92,"theta":0,"theta2":6.2832,"fill":"white"},"encoding":{"x":{"datum":0,"type":"quantitative"},"y":{"datum":0,"type":"quantitative"}}},
{"data":{"values":[{}]},"mark":{"type":"point","size":20164,"filled":false,"stroke":"#111","strokeWidth":1.4,"opacity":1},"encoding":{"x":{"datum":0,"type":"quantitative"},"y":{"datum":0,"type":"quantitative"}}},
{"data":{"name":"outline"},"mark":{"type":"line","stroke":"#333","strokeWidth":1,"interpolate":"catmull-rom"},"encoding":{"x":{"field":"x","type":"quantitative"},"y":{"field":"y","type":"quantitative"},"detail":{"field":"part"},"order":{"field":"i"}}},
{"data":{"values":[{}]},"mark":{"type":"text","text":"slope 1","fontSize":24,"fontStyle":"italic","angle":270,"align":"left","baseline":"alphabetic"},"encoding":{"x":{"datum":-11.94,"type":"quantitative"},"y":{"datum":-9.51,"type":"quantitative"}}},
{"data":{"values":[{}]},"mark":{"type":"text","text":"(μV/ms)","fontSize":27,"angle":270,"align":"left","baseline":"alphabetic"},"encoding":{"x":{"datum":-11.94,"type":"quantitative"},"y":{"datum":-1.37,"type":"quantitative"}}}
]},
{"width":291,"height":267,"layer":[
{"data":{"name":"regions"},"transform":[{"lookup":"region","from":{"data":{"name":"levels"},"key":"region","fields":["s1"]}}],"mark":{"type":"line","stroke":"#222","strokeWidth":1.3},"encoding":{"x":{"field":"x","type":"quantitative","scale":{"domain":[-17.97,13.43],"nice":false,"zero":false}},"y":{"field":"y","type":"quantitative","scale":{"domain":[-15.22,13.6],"nice":false,"zero":false}},"fill":{"field":"s1","type":"nominal","scale":{"domain":["low","mid","high"],"range":["#777777","#b0b0b0","#ffffff"]},"legend":null},"detail":{"field":"region"},"order":{"field":"i"}}},
{"data":{"name":"outline"},"mark":{"type":"line","stroke":"#333","strokeWidth":1,"interpolate":"catmull-rom"},"encoding":{"x":{"field":"x","type":"quantitative"},"y":{"field":"y","type":"quantitative"},"detail":{"field":"part"},"order":{"field":"i"}}},
{"data":{"name":"bars"},"transform":[{"filter":"datum.m==2"}],"mark":{"type":"rect","stroke":"#333","strokeWidth":1},"encoding":{"x":{"datum":11.46,"type":"quantitative"},"x2":{"datum":12.76},"y":{"field":"lo","type":"quantitative"},"y2":{"field":"hi"},"fill":{"field":"level","type":"nominal","scale":{"domain":["low","mid","high"],"range":["#777777","#b0b0b0","#ffffff"]},"legend":null}}}
]},
{"width":290,"height":230,"layer":[
{"data":{"name":"cells"},"transform":[{"filter":"datum.m==3"}],"mark":{"type":"rect","width":10,"height":10},"encoding":{"x":{"field":"x","type":"quantitative","scale":{"domain":[-14.79,15.85],"nice":false,"zero":false}},"y":{"field":"y","type":"quantitative","scale":{"domain":[-10.88,13.42],"nice":false,"zero":false}},"color":{"field":"v","type":"quantitative","scale":{"domain":[0.2696,0.3125,0.3573,0.3872],"range":["#000000","#ff0000","#ffff00","#ffffff"],"clamp":true,"interpolate":"rgb"},"legend":{"orient":"none","legendX":244.3,"legendY":31.3,"title":null,"gradientLength":191,"gradientThickness":12,"gradientStrokeColor":"#222","gradientStrokeWidth":1,"values":[0.28,0.33,0.38],"format":".2f","labelFont":"Liberation Serif","labelFontSize":24,"labelColor":"#111","labelOffset":10}}}},
{"data":{"name":"cells"},"transform":[{"filter":"datum.m==3"}],"mark":{"type":"rect","width":15,"height":15,"fillOpacity":0.4},"encoding":{"x":{"field":"x","type":"quantitative"},"y":{"field":"y","type":"quantitative"},"color":{"field":"v","type":"quantitative"}}},
{"data":{"values":[{}]},"mark":{"type":"arc","innerRadius":71,"outerRadius":92,"theta":0,"theta2":6.2832,"fill":"white"},"encoding":{"x":{"datum":0,"type":"quantitative"},"y":{"datum":0,"type":"quantitative"}}},
{"data":{"values":[{}]},"mark":{"type":"point","size":20164,"filled":false,"stroke":"#111","strokeWidth":1.4,"opacity":1},"encoding":{"x":{"datum":0,"type":"quantitative"},"y":{"datum":0,"type":"quantitative"}}},
{"data":{"name":"outline"},"mark":{"type":"line","stroke":"#333","strokeWidth":1,"interpolate":"catmull-rom"},"encoding":{"x":{"field":"x","type":"quantitative"},"y":{"field":"y","type":"quantitative"},"detail":{"field":"part"},"order":{"field":"i"}}},
{"data":{"values":[{}]},"mark":{"type":"text","text":"slope 2","fontSize":24,"fontStyle":"italic","angle":270,"align":"left","baseline":"alphabetic"},"encoding":{"x":{"datum":-11.94,"type":"quantitative"},"y":{"datum":-8.87,"type":"quantitative"}}},
{"data":{"values":[{}]},"mark":{"type":"text","text":"(μV/ms)","fontSize":27,"angle":270,"align":"left","baseline":"alphabetic"},"encoding":{"x":{"datum":-11.94,"type":"quantitative"},"y":{"datum":-0.95,"type":"quantitative"}}}
]},
{"width":291,"height":230,"layer":[
{"data":{"name":"regions"},"transform":[{"lookup":"region","from":{"data":{"name":"levels"},"key":"region","fields":["s2"]}}],"mark":{"type":"line","stroke":"#222","strokeWidth":1.3},"encoding":{"x":{"field":"x","type":"quantitative","scale":{"domain":[-18.02,13.38],"nice":false,"zero":false}},"y":{"field":"y","type":"quantitative","scale":{"domain":[-10.9,13.92],"nice":false,"zero":false}},"fill":{"field":"s2","type":"nominal","scale":{"domain":["low","mid","high"],"range":["#777777","#b0b0b0","#ffffff"]},"legend":null},"detail":{"field":"region"},"order":{"field":"i"}}},
{"data":{"name":"outline"},"mark":{"type":"line","stroke":"#333","strokeWidth":1,"interpolate":"catmull-rom"},"encoding":{"x":{"field":"x","type":"quantitative"},"y":{"field":"y","type":"quantitative"},"detail":{"field":"part"},"order":{"field":"i"}}},
{"data":{"name":"bars"},"transform":[{"filter":"datum.m==3"}],"mark":{"type":"rect","stroke":"#333","strokeWidth":1},"encoding":{"x":{"datum":11.3,"type":"quantitative"},"x2":{"datum":12.59},"y":{"field":"lo","type":"quantitative"},"y2":{"field":"hi"},"fill":{"field":"level","type":"nominal","scale":{"domain":["low","mid","high"],"range":["#777777","#b0b0b0","#ffffff"]},"legend":null}}}
]}
]}
